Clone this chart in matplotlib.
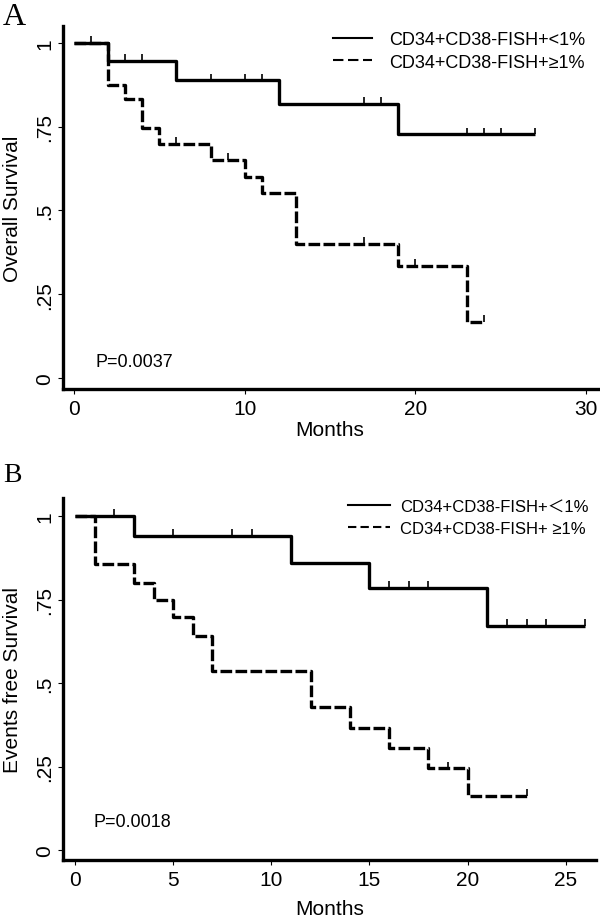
import matplotlib
matplotlib.use('Agg')
import matplotlib.pyplot as plt
from matplotlib.lines import Line2D
import numpy as np

plt.rcParams['font.family'] = ['Liberation Sans', 'DejaVu Sans', 'Noto Sans CJK SC']

# Panel A - overall survival
os_low_times = [2, 6, 12, 19]
os_low_surv = [0.947, 0.889, 0.818, 0.727]
os_low_end = 27
os_low_cens = [1, 3, 4, 8, 10, 11, 17, 18, 23, 24, 25, 27]

os_high_times = [2, 3, 4, 5, 8, 10, 11, 13, 19, 23]
os_high_surv = [0.875, 0.833, 0.745, 0.70, 0.652, 0.60, 0.552, 0.40, 0.335, 0.168]
os_high_end = 24
os_high_cens = [6, 9, 17, 20, 24]

# Panel B - events free survival
efs_low_times = [3, 11, 15, 21]
efs_low_surv = [0.94, 0.859, 0.784, 0.671]
efs_low_end = 26
efs_low_cens = [2, 5, 8, 9, 16, 17, 18, 22, 23, 24, 26]

efs_high_times = [1, 3, 4, 5, 6, 7, 12, 14, 16, 18, 20]
efs_high_surv = [0.857, 0.80, 0.749, 0.698, 0.641, 0.536, 0.428, 0.365, 0.305, 0.245, 0.162]
efs_high_end = 23
efs_high_cens = [19, 23]

y_ticks = [0, 0.25, 0.5, 0.75, 1]
y_ticklabels = ['0', '.25', '.5', '.75', '1']


def km(ax, times, surv, end, cens, dashed=False):
    x = [0] + times + [end]
    y = [1] + surv + [surv[-1]]
    line, = ax.step(x, y, where='post', color='black', lw=2.4,
                    solid_capstyle='butt', dash_capstyle='butt')
    if dashed:
        line.set_dashes([3.5, 1])
    idx = np.searchsorted(x, cens, side='right') - 1
    cy = np.array(y)[idx]
    ax.vlines(cens, cy, cy + 0.02, color='black', lw=1.2)


def style(ax, xticks, xlim, ylim, ylabel):
    for s in ['top', 'right']:
        ax.spines[s].set_visible(False)
    for s in ['left', 'bottom']:
        ax.spines[s].set_linewidth(2.4)
    ax.set_xlim(*xlim)
    ax.set_ylim(*ylim)
    ax.set_xticks(xticks)
    ax.set_yticks(y_ticks)
    ax.set_yticklabels(y_ticklabels, rotation=90, va='center')
    ax.tick_params(axis='both', direction='out', length=3.5, width=0.8, labelsize=15)
    ax.tick_params(axis='x', pad=3.5)
    ax.tick_params(axis='y', pad=3)
    ax.set_ylabel(ylabel, fontsize=15)
    ax.set_xlabel('Months', fontsize=15, va='top')
    ax.yaxis.set_label_coords(-0.077, 0.5)


fig = plt.figure(figsize=(6, 9.2), dpi=100)
axA = fig.add_axes([0.105, 0.5761, 0.892, 0.3946])
axB = fig.add_axes([0.105, 0.0641, 0.888, 0.3935])

# A
km(axA, os_high_times, os_high_surv, os_high_end, os_high_cens, dashed=True)
km(axA, os_low_times, os_low_surv, os_low_end, os_low_cens)
style(axA, [0, 10, 20, 30], (-0.64, 30.7), (-0.033, 1.051), 'Overall Survival')
axA.xaxis.set_label_coords(0.499, -0.085)
axA.text(1.29, 0.05, 'P=0.0037', fontsize=13, va='center', ha='left')
hA = [Line2D([], [], color='black', lw=1.5),
      Line2D([], [], color='black', lw=1.5, dashes=(5, 2.2))]
axA.legend(hA, ['CD34+CD38-FISH+<1%', 'CD34+CD38-FISH+\u22651%'],
           loc='upper left', bbox_to_anchor=(333 / 600, 1 - 32 / 920),
           bbox_transform=fig.transFigure, frameon=False, fontsize=13,
           borderpad=0, borderaxespad=0, handlelength=2.16,
           handletextpad=0.94, labelspacing=0.32)

# B
km(axB, efs_high_times, efs_high_surv, efs_high_end, efs_high_cens, dashed=True)
km(axB, efs_low_times, efs_low_surv, efs_low_end, efs_low_cens)
style(axB, [0, 5, 10, 15, 20, 25], (-0.61, 26.53), (-0.030, 1.054), 'Events free Survival')
axB.xaxis.set_label_coords(0.5, -0.108)
axB.text(0.92, 0.084, 'P=0.0018', fontsize=13, va='center', ha='left')
hB = [Line2D([], [], color='black', lw=1.5),
      Line2D([], [], color='black', lw=1.5, dashes=(4, 2))]
axB.legend(hB, ['CD34+CD38-FISH+\uff1c1%', 'CD34+CD38-FISH+ \u22651%'],
           loc='upper left', bbox_to_anchor=(348 / 600, 1 - 500 / 920),
           bbox_transform=fig.transFigure, frameon=False, fontsize=12,
           borderpad=0, borderaxespad=0, handlelength=2.5,
           handletextpad=0.6, labelspacing=0.4)

fig.text(0.005, 1 - 25 / 920, 'A', family='Liberation Serif', fontsize=23, va='baseline')
fig.text(0.005, 1 - 482 / 920, 'B', family='Liberation Serif', fontsize=20, va='baseline')

fig.savefig('out.png', dpi=100)
